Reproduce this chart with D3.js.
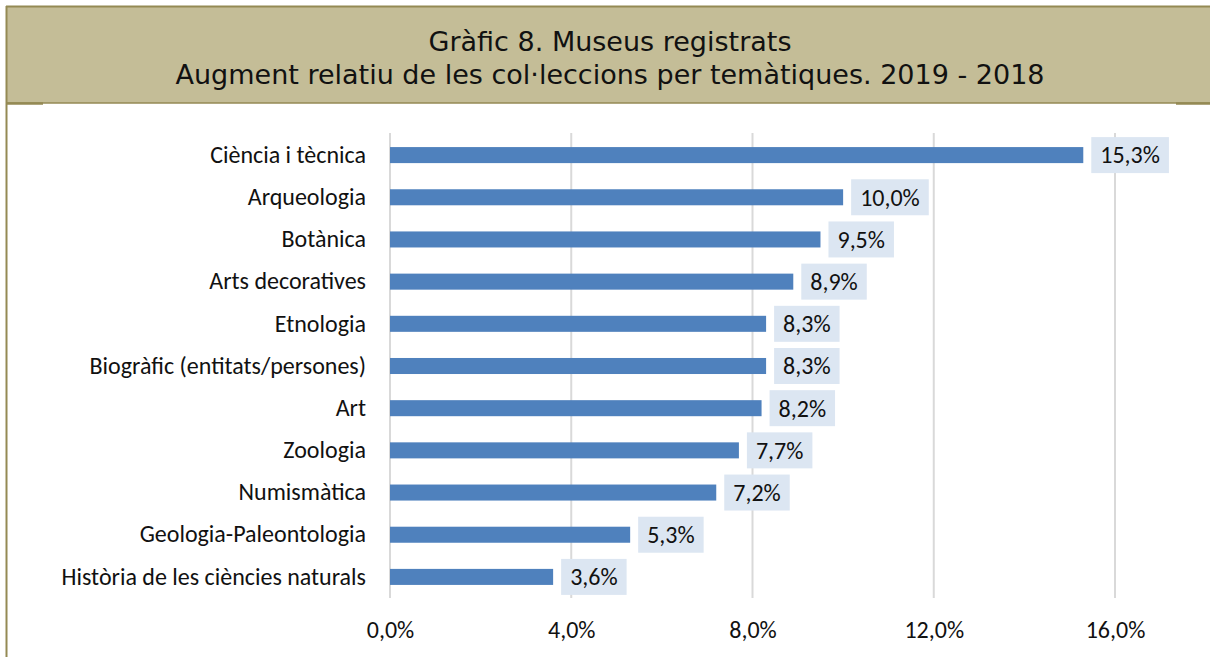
<!DOCTYPE html>
<html><head><meta charset="utf-8">
<script src="https://cdn.jsdelivr.net/npm/d3@7"></script>
<style>
body{margin:0;background:#fff;}
svg{display:block;}
</style></head>
<body>
<svg id="chart" width="1210" height="657"></svg>
<script>
const titleLines = ["Gràfic 8. Museus registrats", "Augment relatiu de les col·leccions per temàtiques. 2019 - 2018"];
const categories = ["Ciència i tècnica","Arqueologia","Botànica","Arts decoratives","Etnologia","Biogràfic (entitats/persones)","Art","Zoologia","Numismàtica","Geologia-Paleontologia","Història de les ciències naturals"];
const values = [15.3,10.0,9.5,8.9,8.3,8.3,8.2,7.7,7.2,5.3,3.6];
const ticks = [0,4,8,12,16];

const svg = d3.select("#chart");
const fmt = v => v.toFixed(1).replace(".", ",") + "%";

// frame + header
svg.append("rect").attr("x",6).attr("y",6).attr("width",1210).attr("height",97)
  .attr("fill","#C4BD97");
svg.append("line").attr("x1",6).attr("x2",1210).attr("y1",6.5).attr("y2",6.5).attr("stroke","#948A54").attr("stroke-width",2);
svg.append("line").attr("x1",6).attr("x2",1210).attr("y1",103).attr("y2",103).attr("stroke","#948A54").attr("stroke-width",1.5);
svg.append("line").attr("x1",6).attr("x2",43).attr("y1",103.5).attr("y2",103.5).attr("stroke","#948A54").attr("stroke-width",2.5);
svg.append("line").attr("x1",1176).attr("x2",1210).attr("y1",103.5).attr("y2",103.5).attr("stroke","#948A54").attr("stroke-width",2.5);
svg.append("line").attr("x1",6.5).attr("x2",6.5).attr("y1",6).attr("y2",657).attr("stroke","#948A54").attr("stroke-width",2);

svg.selectAll("text.title").data(titleLines).enter().append("text")
  .attr("class","title")
  .attr("x",610).attr("y",(d,i)=>51+i*33)
  .attr("text-anchor","middle")
  .attr("font-family","DejaVu Sans, Verdana, sans-serif")
  .attr("font-size",27).attr("fill","#111")
  .text(d=>d);

const x = d3.scaleLinear().domain([0,16]).range([390,1115]);
const y = d3.scaleBand().domain(categories).range([134,598]).paddingInner(0.62).paddingOuter(0.31);

const font = "Carlito, Lato, 'Liberation Sans', sans-serif";
const fs = 24;

// gridlines
svg.append("g").selectAll("line").data(ticks).enter().append("line")
  .attr("x1",d=>x(d)).attr("x2",d=>x(d)).attr("y1",133).attr("y2",598)
  .attr("stroke","#D9D9D9").attr("stroke-width",2);

// x axis labels
const xAxis = d3.axisBottom(x).tickValues(ticks).tickFormat(fmt).tickSize(0).tickPadding(0);
const gx = svg.append("g").attr("transform","translate(0,621)").call(xAxis);
gx.select(".domain").remove();
gx.selectAll("text").attr("font-family",font).attr("font-size",fs).attr("fill","#111");

// y axis labels
const yAxis = d3.axisLeft(y).tickSize(0).tickPadding(24);
const gy = svg.append("g").attr("transform","translate(390,0)").call(yAxis);
gy.select(".domain").remove();
gy.selectAll("text").attr("font-family",font).attr("font-size",fs).attr("fill","#111");

// bars
svg.append("g").selectAll("rect").data(values).enter().append("rect")
  .attr("x",x(0)).attr("y",(d,i)=>y(categories[i]))
  .attr("width",d=>x(d)-x(0)).attr("height",y.bandwidth())
  .attr("fill","#4F81BD");

// labels
const lg = svg.append("g").selectAll("g").data(values).enter().append("g");
lg.each(function(d,i){
  const g = d3.select(this);
  const cy = y(categories[i]) + y.bandwidth()/2;
  const t = g.append("text").attr("x",x(d)+17).attr("y",cy).attr("dy","0.35em")
    .attr("font-family",font).attr("font-size",fs).attr("fill","#111").text(fmt(d));
  const w = t.node().getComputedTextLength();
  g.insert("rect","text").attr("x",x(d)+8).attr("y",cy-18).attr("width",w+18).attr("height",36)
    .attr("fill","#DCE6F2");
});
</script>
</body></html>
